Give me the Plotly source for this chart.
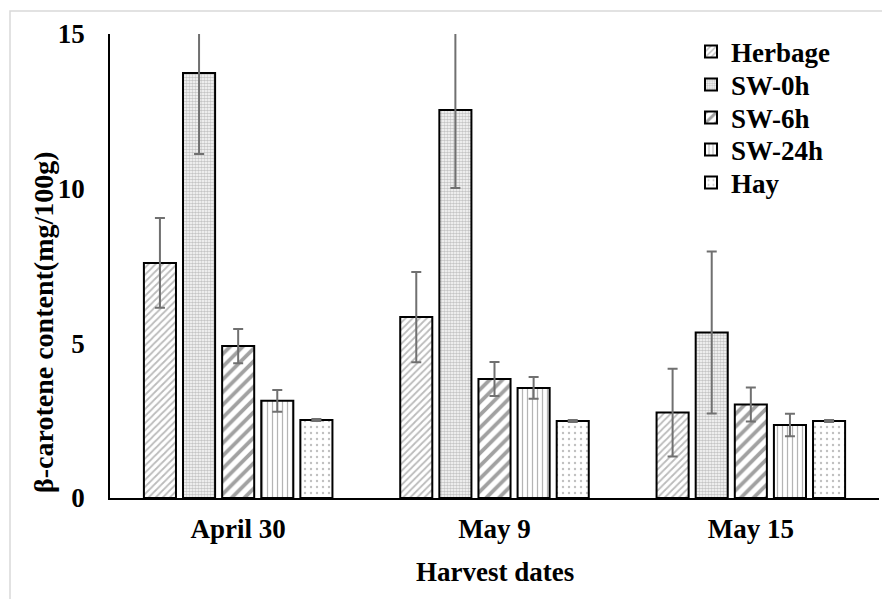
import plotly.graph_objects as go

categories = ["April 30", "May 9", "May 15"]
series_names = ["Herbage", "SW-0h", "SW-6h", "SW-24h", "Hay"]
herbage = [7.60, 5.85, 2.76]
herbage_err = [1.45, 1.46, 1.42]
sw0h = [13.74, 12.54, 5.35]
sw0h_err = [2.62, 2.52, 2.62]
sw6h = [4.91, 3.85, 3.02]
sw6h_err = [0.55, 0.55, 0.55]
sw24h = [3.14, 3.56, 2.36]
sw24h_err = [0.35, 0.35, 0.36]
hay = [2.52, 2.49, 2.49]
hay_err = [0.03, 0.03, 0.03]
y_ticks = [0, 5, 10, 15]

values = [herbage, sw0h, sw6h, sw24h, hay]
errors = [herbage_err, sw0h_err, sw6h_err, sw24h_err, hay_err]
patterns = [
    dict(shape="/", size=5, solidity=0.35, fgcolor="#777777", bgcolor="white"),
    dict(shape=".", size=3, solidity=0.6, fgcolor="#8c8c8c", bgcolor="white"),
    dict(shape="/", size=9, solidity=0.42, fgcolor="#444444", bgcolor="white"),
    dict(shape="|", size=5, solidity=0.25, fgcolor="#6a6a6a", bgcolor="white"),
    dict(shape=".", size=6, solidity=0.12, fgcolor="#808080", bgcolor="white"),
]

FONT = "Liberation Serif, Times New Roman, serif"

# page has an 8px body margin; figure coords = page coords - 8
PL, PT, PW, PB = 110, 34, 769, 498   # plot area in page px
OFF = 8
FIG_W, FIG_H = 882, 591
ML, MT = PL - OFF, PT - OFF
MR = FIG_W - (PL + PW - OFF)
MB = FIG_H - (PB - OFF)
PH = PB - PT

def px_x(x):
    return (x - PL) / PW

def px_y(y):
    return (PB - y) / PH

legend_centers = [52, 85, 118, 150, 183]
legend_names = ["legend", "legend2", "legend3", "legend4", "legend5"]

fig = go.Figure()
for name, v, e, p, lg in zip(series_names, values, errors, patterns, legend_names):
    fig.add_trace(go.Bar(
        name=name, x=categories, y=v, legend=lg,
        marker=dict(color="white", pattern=p, line=dict(color="black", width=2)),
        error_y=dict(type="data", array=e, visible=True, color="#707070", thickness=2, width=5),
    ))

legend_layout = {}
for lg, yc in zip(legend_names, legend_centers):
    legend_layout[lg] = dict(
        x=px_x(691), y=px_y(yc), xanchor="left", yanchor="middle",
        font=dict(family=FONT, size=27, color="black", weight="bold"),
        bgcolor="rgba(0,0,0,0)",
    )

fig.update_layout(
    width=FIG_W, height=FIG_H,
    margin=dict(l=ML, r=MR, t=MT, b=MB),
    paper_bgcolor="white", plot_bgcolor="white",
    barmode="group", bargap=0.237, bargroupgap=0.18,
    font=dict(family=FONT, size=27, color="black"),
    showlegend=True,
    xaxis=dict(showline=True, linecolor="black", linewidth=1.5, ticks="",
               tickfont=dict(family=FONT, size=27, weight="bold"), ticklabelstandoff=6,
               showgrid=False),
    yaxis=dict(range=[0, 15], tickvals=y_ticks, showline=True, linecolor="black", linewidth=1.5,
               ticks="", showgrid=False, zeroline=False,
               tickfont=dict(family=FONT, size=27, weight="bold"), ticklabelstandoff=18),
    annotations=[
        dict(text="β-carotene content(mg/100g)", xref="paper", yref="paper",
             x=px_x(43), y=px_y(322), textangle=-90, showarrow=False,
             xanchor="center", yanchor="middle",
             font=dict(family=FONT, size=28, weight="bold")),
        dict(text="Harvest dates", xref="paper", yref="paper",
             x=0.5, y=px_y(572), showarrow=False, xanchor="center", yanchor="middle",
             font=dict(family=FONT, size=27, weight="bold")),
    ],
    shapes=[dict(type="rect", xref="paper", yref="paper",
                 x0=px_x(10), x1=px_x(900),
                 y0=px_y(610), y1=px_y(11),
                 line=dict(color="#d9d9d9", width=1.5), layer="below")],
    **legend_layout,
)

fig.write_html("out.html")
